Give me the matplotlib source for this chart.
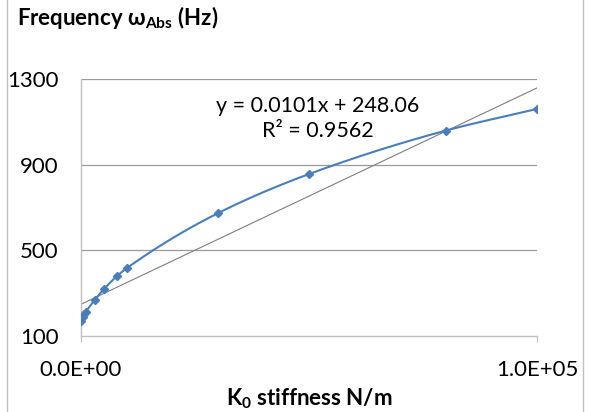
import matplotlib.pyplot as plt
import numpy as np

plt.rcParams["font.family"] = ["Lato", "DejaVu Sans"]
plt.rcParams["mathtext.fontset"] = "custom"
plt.rcParams["mathtext.rm"] = "Lato"
plt.rcParams["mathtext.bf"] = "Lato:bold"

stiffness = [100, 400, 700, 1000, 3000, 5000, 8000, 10000, 30000, 50000, 80000, 100000]
freq = [171, 187, 201, 211, 268, 318, 382, 416, 673, 856, 1059, 1160]
slope, intercept = 0.0101, 248.06
x_ticks = [0, 100000]
x_tick_labels = ["0.0E+00", "1.0E+05"]
y_ticks = [100, 500, 900, 1300]

blue = "#4A7EBB"


def smooth(xs, ys, n=40):
    # monotone cubic (Fritsch-Carlson) through the points
    x = np.asarray(xs, float)
    y = np.asarray(ys, float)
    h = np.diff(x)
    d = np.diff(y) / h
    m = np.zeros_like(x)
    m[0], m[-1] = d[0], d[-1]
    for i in range(1, len(x) - 1):
        if d[i - 1] * d[i] > 0:
            w1 = 2 * h[i] + h[i - 1]
            w2 = h[i] + 2 * h[i - 1]
            m[i] = (w1 + w2) / (w1 / d[i - 1] + w2 / d[i])
    xo, yo = [], []
    for i in range(len(x) - 1):
        t = np.linspace(0, 1, n)
        h00 = 2 * t**3 - 3 * t**2 + 1
        h10 = t**3 - 2 * t**2 + t
        h01 = -2 * t**3 + 3 * t**2
        h11 = t**3 - t**2
        xo.append(x[i] + t * h[i])
        yo.append(h00 * y[i] + h10 * h[i] * m[i] + h01 * y[i + 1] + h11 * h[i] * m[i + 1])
    return np.concatenate(xo), np.concatenate(yo)


fig = plt.figure(figsize=(5.9, 4.12), dpi=100)
ax = fig.add_axes([0.1373, 0.1845, 0.7727, 0.6238])

ax.set_xlim(0, 100000)
ax.set_ylim(100, 1300)

for yv in y_ticks[1:]:
    ax.axhline(yv, color="#9A9A9A", lw=0.9, zorder=0)

sxv, syv = smooth(stiffness, freq)
ax.plot(sxv, syv, color=blue, lw=1.5, zorder=3)
ax.plot(stiffness, freq, ls="none", marker="D", ms=4.5, color=blue, zorder=4)

tx = np.array([0, 100000])
ax.plot(tx, slope * tx + intercept, color="#7F7F7F", lw=0.8, zorder=2)

ax.text(0.52, 0.847, f"y = {slope}x + {intercept}\nR² = 0.9562",
        transform=ax.transAxes, ha="center", va="center", fontsize=15.5,
        linespacing=1.3)

ax.set_xticks(x_ticks)
ax.set_xticklabels(x_tick_labels, fontsize=16)
ax.set_yticks(y_ticks)
ax.set_yticklabels([str(v) for v in y_ticks], fontsize=16)
ax.tick_params(axis="y", length=0, pad=16)
ax.tick_params(axis="x", length=4, color="#BFBFBF", direction="out", pad=13)

for s in ["top", "right"]:
    ax.spines[s].set_visible(False)
for s in ["left", "bottom"]:
    ax.spines[s].set_color("#BFBFBF")
    ax.spines[s].set_linewidth(1.0)

ax.set_xlabel(r"K$_{\mathbf{0}}$ stiffness N/m", fontsize=16, fontweight="bold", labelpad=5)
fig.text(0.029, 0.958, r"Frequency ω$_{\mathbf{Abs}}$ (Hz)", fontsize=16,
         fontweight="bold", ha="left", va="center")

fig.add_artist(plt.Line2D([0.012, 0.012], [0, 1], color="#BFBFBF", lw=1.0))
fig.add_artist(plt.Line2D([0.988, 0.988], [0, 1], color="#BFBFBF", lw=1.0))

fig.savefig("out.png", dpi=100)
